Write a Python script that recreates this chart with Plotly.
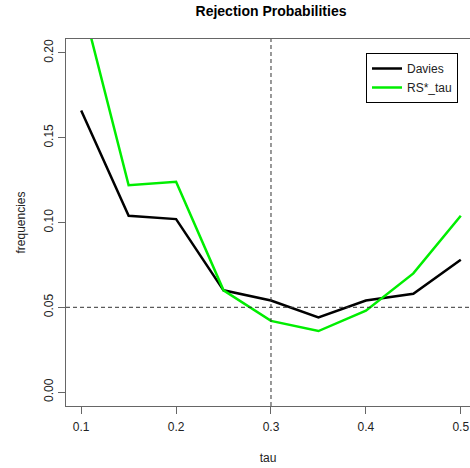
import plotly.graph_objects as go

tau = [0.1, 0.15, 0.2, 0.25, 0.3, 0.35, 0.4, 0.45, 0.5]
davies = [0.166, 0.104, 0.102, 0.060, 0.054, 0.044, 0.054, 0.058, 0.078]
rs_tau = [0.232, 0.122, 0.124, 0.060, 0.042, 0.036, 0.048, 0.070, 0.104]
x_ticks = [0.1, 0.2, 0.3, 0.4, 0.5]
y_ticks = [0.0, 0.05, 0.10, 0.15, 0.20]
y_tick_text = ["0.00", "0.05", "0.10", "0.15", "0.20"]

FONT = "Liberation Sans, Arial, sans-serif"
H = 468
MT, MB = 39, 62
PH = H - MT - MB

fig = go.Figure()
fig.add_trace(go.Scatter(x=tau, y=davies, mode="lines", name="Davies",
                         line=dict(color="black", width=2.5)))
fig.add_trace(go.Scatter(x=tau, y=rs_tau, mode="lines", name="RS*_tau",
                         line=dict(color="#00ee00", width=2.5)))

fig.add_hline(y=0.05, line=dict(color="#333", width=1, dash="4px,3px"))
fig.add_vline(x=0.3, line=dict(color="#333", width=1, dash="4px,3px"))

fig.update_layout(
    width=470, height=H,
    margin=dict(l=66, r=0, t=MT, b=MB, autoexpand=False),
    paper_bgcolor="white", plot_bgcolor="white",
    font=dict(family=FONT, size=12, color="#222"),
    title=dict(text="<b>Rejection Probabilities</b>", x=271/470, xanchor="center",
               y=1 - 11/H, yanchor="middle", font=dict(size=14, color="black")),
    showlegend=True,
    legend=dict(x=(366 - 66)/404, y=(H - MB - 53)/PH, xref="paper", yref="paper",
                xanchor="left", yanchor="top",
                bordercolor="black", borderwidth=1, bgcolor="white",
                font=dict(size=12, color="#222"), itemwidth=30,
                tracegroupgap=0),
)
fig.update_xaxes(
    range=[0.084, 0.5097], tickvals=x_ticks, ticktext=["0.1", "0.2", "0.3", "0.4", "0.5"],
    showgrid=False, zeroline=False, showline=True, linecolor="#666", linewidth=1,
    mirror=True, ticks="outside", ticklen=7, tickcolor="#666", ticklabelstandoff=3,
    title=dict(text="tau", standoff=20, font=dict(size=12)),
)
fig.update_yaxes(
    range=[-0.0082, 0.2082], tickvals=y_ticks, ticktext=y_tick_text, tickangle=-90,
    showgrid=False, zeroline=False, showline=True, linecolor="#666", linewidth=1,
    ticks="outside", ticklen=7, tickcolor="#666",
    title=dict(text="frequencies", standoff=14, font=dict(size=12)),
)

fig.write_html("out.html")
